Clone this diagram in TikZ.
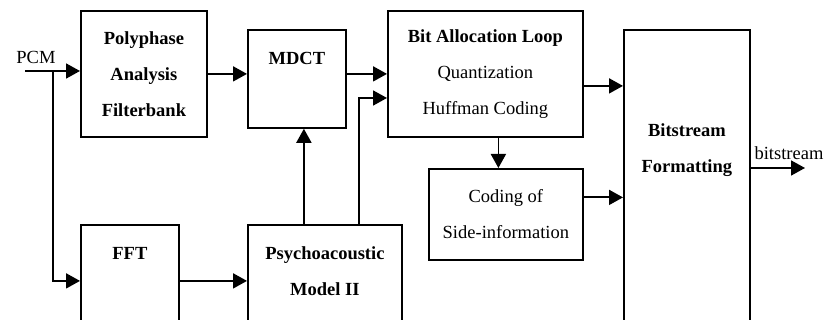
\documentclass[tikz,border=0pt]{standalone}
\usepackage{fontspec}
\setmainfont{Liberation Serif}
\usetikzlibrary{arrows.meta,positioning,calc}

\begin{document}
\begin{tikzpicture}[x=1pt,y=-1pt,
		block/.style={draw, line width=1.8pt, inner sep=0pt, anchor=north west, align=center},
		txt/.style={align=center, inner sep=0pt},
		arr/.style={line width=1.8pt, -{Triangle[length=14pt,width=15pt]}},
		font=\fontsize{18.5}{36}\selectfont]
		\useasboundingbox (0,0) rectangle (825,320);
		\clip (0,0) rectangle (825,320);
		
		% boxes
		\node[block, minimum width=126pt, minimum height=126pt] (poly) at (80,10) {\textbf{Polyphase}\\\textbf{Analysis}\\\textbf{Filterbank}};
		\node[block, minimum width=98pt, minimum height=98pt] (mdct) at (247,29) {};
		\node[txt, below=23pt of mdct.north] (mdcttxt) {\textbf{MDCT}};
		\node[block, minimum width=195pt, minimum height=126pt] (alloc) at (387,10) {\textbf{Bit Allocation Loop}\\Quantization\\Huffman Coding};
		\node[block, minimum width=154pt, minimum height=91pt] (side) at (428,168) {Coding of\\Side-information};
		\node[block, minimum width=126pt, minimum height=320pt] (fmt) at (623,29) {};
		\node[txt, below=94pt of fmt.north] (fmttxt) {\textbf{Bitstream}\\\textbf{Formatting}};
		\node[block, minimum width=98pt, minimum height=112pt] (fft) at (80,224) {};
		\node[txt, below=23pt of fft.north] (ffttxt) {\textbf{FFT}};
		\node[block, minimum width=154pt, minimum height=112pt] (psy) at (247,224) {};
		\node[txt, below=22pt of psy.north] (psytxt) {\textbf{Psychoacoustic}\\\textbf{Model II}};
		
		% labels
		\node[txt] (pcm) at (36,57) {PCM};
		\node[txt] (bslbl) at (789,153) {bitstream};
		
		% helper points
		\coordinate (pcmin) at (25,71);
		\coordinate (split) at (53,71);
		\coordinate (up) at ($(mdct.south)+(7,0)$);
		\coordinate (tap) at (359,98);
		\coordinate (down) at ($(alloc.south)+(13,0)$);
		\coordinate (toA) at ($(alloc.east)+(0,12)$);
		\coordinate (toB) at ($(side.east)+(0,-17)$);
		\coordinate (bsout) at (805,168);
		
		% connectors
		\draw[arr] (pcmin) -- (pcmin -| poly.west);
		\draw[arr] (split) |- (fft.west);
		\draw[arr] (poly.east) -- (poly.east -| mdct.west);
		\draw[arr] (mdct.east |- poly.east) -- (alloc.west |- poly.east);
		\draw[arr] (fft.east) -- (psy.west);
		\draw[arr] (up |- psy.north) -- (up);
		\draw[arr] (tap |- psy.north) -- (tap) -- (tap -| alloc.west);
		\draw[arr] (down) -- (down |- side.north);
		\draw[arr] (toA) -- (toA -| fmt.west);
		\draw[arr] (toB) -- (toB -| fmt.west);
		\draw[arr] (bsout -| fmt.east) -- (bsout);
		
\end{tikzpicture}
\end{document}
